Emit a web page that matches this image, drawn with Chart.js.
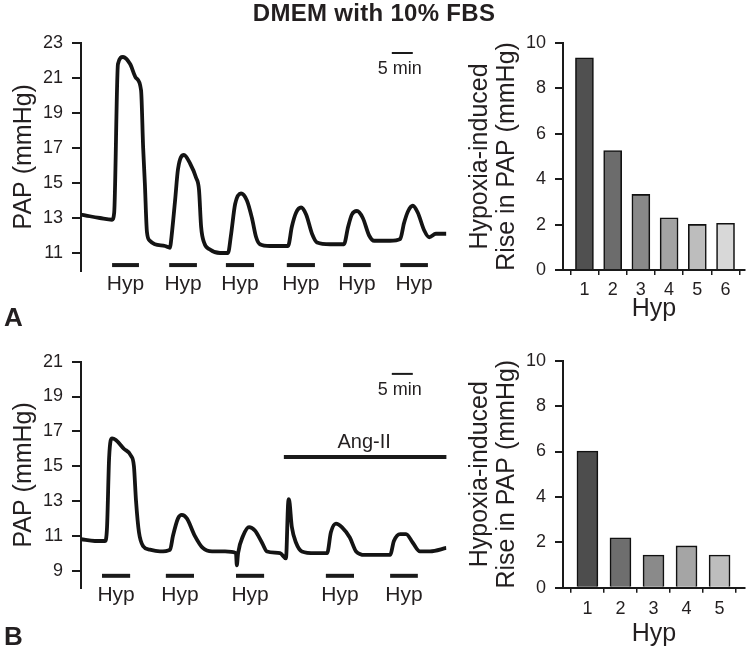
<!DOCTYPE html>
<html>
<head>
<meta charset="utf-8">
<script src="https://cdn.jsdelivr.net/npm/chart.js@4.4.1/dist/chart.umd.min.js"></script>
<style>
  html, body { margin: 0; padding: 0; background: #fff; }
  #wrap { position: relative; width: 748px; height: 648px; overflow: hidden; background: #fff; }
  #wrap canvas { position: absolute; left: 0; top: 0; }
  .txt { position: absolute; font-family: 'Liberation Sans', Arial, Helvetica, sans-serif; color: #231f20; line-height: 1; white-space: nowrap; }
</style>
</head>
<body>
<div id="wrap">
  <canvas id="traceA" width="748" height="648"></canvas>
  <canvas id="barA" width="748" height="648"></canvas>
  <canvas id="traceB" width="748" height="648"></canvas>
  <canvas id="barB" width="748" height="648"></canvas>
  <div class="txt" style="left:0;width:748px;text-align:center;top:1px;font-size:24px;font-weight:bold;letter-spacing:0.3px;">DMEM with 10% FBS</div>
  <div class="txt" style="left:4px;top:304px;font-size:26px;font-weight:bold;">A</div>
  <div class="txt" style="left:4px;top:623px;font-size:26px;font-weight:bold;">B</div>
</div>
<script>
// ---------------- data ----------------
// Panel A trace: time (min) and pulmonary arterial pressure (mmHg)
const timeA = [0, 2.1, 4.5, 7.4, 7.9, 8.8, 10, 11.7, 13.1, 14.3, 14.8, 15.2, 15.7, 16.4, 17.6, 20, 21.2,
  21.4, 22.4, 23.1, 24.5, 26, 27.4, 28.1, 28.6, 29.3, 30.7, 33.1, 35,
  35.7, 36.7, 38.1, 39.5, 40.7, 41.7, 42.6, 45, 49.3,
  50.2, 51.2, 52.4, 53.6, 55, 56.2, 59.3, 62.6,
  63.6, 64.5, 65.7, 67.1, 68.6, 69.8, 73.6, 76,
  76.9, 77.9, 79, 80.2, 81.7, 82.9, 84.5, 87];
const papA = [13.2, 13.1, 13.0, 12.9, 13.3, 21.8, 22.2, 21.8, 21.0, 20.3, 17.0, 15.0, 12.2, 11.7, 11.5, 11.4, 11.3,
  11.6, 14.0, 15.8, 16.6, 16.1, 15.3, 14.6, 12.5, 11.6, 11.2, 11.0, 11.0,
  12.0, 13.8, 14.4, 14.0, 13.0, 11.9, 11.5, 11.4, 11.4,
  12.5, 13.3, 13.6, 13.2, 12.1, 11.6, 11.5, 11.5,
  12.5, 13.2, 13.4, 13.0, 12.0, 11.7, 11.7, 11.8,
  12.7, 13.4, 13.7, 13.3, 12.3, 11.9, 12.1, 12.1];
const hypStartA = [7.4, 21.0, 34.5, 49.0, 62.4, 76.0];
const hypEndA   = [13.8, 27.6, 41.2, 55.7, 69.0, 82.6];
const yTicksA = [11, 13, 15, 17, 19, 21, 23];

// Panel B trace
const timeB = [0, 3.3, 5.7, 6.2, 6.7, 7.4, 8.3, 10.2, 11.9, 12.6, 13.1, 13.8, 14.8, 16.4, 18.8, 21.2,
  21.9, 23.1, 24, 25.2, 27.1, 29, 31.2, 34.3, 36.9, 37.1, 37.4,
  38.6, 40, 41.4, 43.1, 44.3, 47.4, 48.8, 49.3, 49.5, 50.2, 51.2, 52.6, 55.7, 58.6,
  59.5, 60.7, 62.1, 64, 65.5, 67.6, 73.6,
  74.5, 76, 77.4, 79, 80.7, 83.1, 87];
const papB = [10.8, 10.7, 10.7, 11.5, 15.5, 16.6, 16.5, 16.0, 15.6, 15.0, 13.0, 11.2, 10.4, 10.2, 10.1, 10.2,
  11.0, 12.0, 12.2, 12.0, 11.0, 10.3, 10.1, 10.1, 10.0, 9.3, 10.0,
  11.0, 11.5, 11.3, 10.6, 10.1, 10.0, 9.7, 12.8, 13.1, 11.5, 10.6, 10.1, 10.0, 10.0,
  11.2, 11.7, 11.5, 10.9, 10.1, 9.9, 9.9,
  10.7, 11.1, 11.1, 10.6, 10.1, 10.1, 10.3];
const hypStartB = [5.0, 20.2, 36.9, 58.3, 73.6];
const hypEndB   = [11.7, 26.9, 43.6, 65.0, 80.2];
const angStartB = 48.3, angEndB = 87;
const yTicksB = [9, 11, 13, 15, 17, 19, 21];

const scaleBarMin = 5;   // "5 min" scale bar length

// Bar charts: hypoxia-induced rise in PAP (mmHg)
const hypNumA = [1, 2, 3, 4, 5, 6];
const riseA = [9.35, 5.26, 3.33, 2.30, 2.01, 2.06];
const hypNumB = [1, 2, 3, 4, 5];
const riseB = [6.02, 2.20, 1.44, 1.84, 1.44];
const riseTicks = [0, 2, 4, 6, 8, 10];

// ---------------- styling ----------------
const FONT = "'Liberation Sans', Arial, Helvetica, sans-serif";
const INK = '#231f20';
const AXIS = '#1a1a1a';
const greysA = ['#505050', '#6c6c6c', '#898989', '#a3a3a3', '#bdbdbd', '#d8d8d8'];
const greysB = ['#4d4d4d', '#6e6e6e', '#8a8a8a', '#a5a5a5', '#bdbdbd'];

Chart.defaults.font.family = FONT;
Chart.defaults.color = INK;
Chart.defaults.animation = false;

function setTicks(list) {
  return function (scale) { scale.ticks = list.map(v => ({ value: v })); };
}

function annotations(cfg) {
  return {
    id: 'annot_' + cfg.name,
    afterDatasetsDraw(chart) {
      const ctx = chart.ctx, xs = chart.scales.x, ys = chart.scales.y;
      ctx.save();
      ctx.strokeStyle = AXIS;
      ctx.fillStyle = INK;
      ctx.lineCap = 'butt';
      // hypoxia markers
      const yBar = ys.getPixelForValue(cfg.hypLevel);
      ctx.lineWidth = 4;
      ctx.font = '21px ' + FONT;
      ctx.textAlign = 'center';
      ctx.textBaseline = 'alphabetic';
      cfg.starts.forEach((s, i) => {
        const x1 = xs.getPixelForValue(s), x2 = xs.getPixelForValue(cfg.ends[i]);
        ctx.beginPath(); ctx.moveTo(x1, yBar); ctx.lineTo(x2, yBar); ctx.stroke();
        ctx.fillText('Hyp', (x1 + x2) / 2, yBar + 25);
      });
      // 5 min scale bar
      const sx1 = xs.getPixelForValue(cfg.scaleStart), sx2 = xs.getPixelForValue(cfg.scaleStart + scaleBarMin);
      const sy = ys.getPixelForValue(cfg.scaleLevel);
      ctx.lineWidth = 2;
      ctx.beginPath(); ctx.moveTo(sx1, sy); ctx.lineTo(sx2, sy); ctx.stroke();
      ctx.font = '18px ' + FONT;
      ctx.fillText('5 min', sx1 + 8, sy + 21);
      // Ang-II bar
      if (cfg.ang) {
        const ax1 = xs.getPixelForValue(cfg.ang[0]), ax2 = xs.getPixelForValue(cfg.ang[1]);
        const ay = ys.getPixelForValue(cfg.ang[2]);
        ctx.lineWidth = 4;
        ctx.beginPath(); ctx.moveTo(ax1, ay); ctx.lineTo(ax2, ay); ctx.stroke();
        ctx.font = '20px ' + FONT;
        ctx.fillText('Ang-II', (ax1 + ax2) / 2 - 1, ay - 9);
      }
      ctx.restore();
    }
  };
}

function traceChart(id, time, pap, yMin, yMax, ticks, pad, annCfg) {
  return new Chart(document.getElementById(id), {
    type: 'line',
    data: {
      datasets: [{
        data: time.map((t, i) => ({ x: t, y: pap[i] })),
        borderColor: '#141414',
        borderWidth: 3.8,
        pointRadius: 0,
        cubicInterpolationMode: 'monotone',
        fill: false
      }]
    },
    options: {
      responsive: false,
      animation: false,
      layout: { padding: pad },
      plugins: { legend: { display: false }, tooltip: { enabled: false } },
      scales: {
        x: { type: 'linear', min: 0, max: 87, display: false },
        y: {
          type: 'linear', min: yMin, max: yMax,
          afterBuildTicks: setTicks(ticks),
          afterFit: s => { s.width = 76; },
          border: { display: true, color: AXIS, width: 2 },
          grid: { drawOnChartArea: false, drawTicks: true, tickLength: 9, color: AXIS, lineWidth: 2 },
          ticks: { padding: 9, font: { size: 18 }, color: INK },
          title: { display: true, text: 'PAP (mmHg)', font: { size: 25, lineHeight: 1.2 }, padding: { top: 4, bottom: 0 }, color: INK }
        }
      }
    },
    plugins: [annotations(annCfg)]
  });
}

function barChart(id, nums, vals, greys, xMin, xMax, thick, pad, xH, xTitlePad, xTickPad) {
  return new Chart(document.getElementById(id), {
    type: 'bar',
    data: {
      datasets: [{
        data: nums.map((n, i) => ({ x: n, y: vals[i] })),
        backgroundColor: greys,
        borderColor: '#111',
        borderWidth: 1.6,
        borderSkipped: 'bottom',
        barThickness: thick
      }]
    },
    options: {
      responsive: false,
      animation: false,
      layout: { padding: pad },
      plugins: { legend: { display: false }, tooltip: { enabled: false } },
      scales: {
        x: {
          type: 'linear', min: xMin, max: xMax, offset: false,
          afterBuildTicks: setTicks(nums),
          afterFit: s => { s.height = xH; },
          border: { display: true, color: AXIS, width: 2 },
          grid: { drawOnChartArea: false, drawTicks: true, tickLength: 5, color: AXIS, lineWidth: 1.5 },
          ticks: { padding: xTickPad, font: { size: 18 }, color: INK, maxRotation: 0 },
          title: { display: true, text: 'Hyp', font: { size: 25, lineHeight: 1.0 }, padding: { top: 0, bottom: xTitlePad }, color: INK }
        },
        y: {
          type: 'linear', min: 0, max: 10,
          afterBuildTicks: setTicks(riseTicks),
          afterFit: s => { s.width = 101; },
          border: { display: true, color: AXIS, width: 2 },
          grid: { drawOnChartArea: false, drawTicks: true, tickLength: 8, color: AXIS, lineWidth: 2 },
          ticks: { padding: 9, font: { size: 18 }, color: INK },
          title: { display: true, text: ['Hypoxia-induced', 'Rise in PAP (mmHg)'], font: { size: 25, lineHeight: 1.08 }, padding: { top: 4.5, bottom: 0 }, color: INK }
        }
      }
    }
  });
}

traceChart('traceA', timeA, papA, 10, 23, yTicksA,
  { left: 5, top: 43, right: 301.6, bottom: 377.5 },
  { name: 'A', starts: hypStartA, ends: hypEndA, hypLevel: 10.31, scaleStart: 74, scaleLevel: 22.43 });

traceChart('traceB', timeB, papB, 8, 21, yTicksB,
  { left: 5, top: 361.7, right: 301.6, bottom: 60 },
  { name: 'B', starts: hypStartB, ends: hypEndB, hypLevel: 8.7, scaleStart: 74, scaleLevel: 20.3,
    ang: [angStartB, angEndB, 15.53] });

barChart('barA', hypNumA, riseA, greysA, 0.24, 6.69, 18,
  { left: 462, top: 43, right: 3, bottom: 322 }, 56, 4.5, 4);

barChart('barB', hypNumB, riseB, greysB, 0.26, 5.77, 21,
  { left: 462, top: 360.7, right: 3, bottom: 1.3 }, 59, 0.2, 6);
</script>
</body>
</html>
